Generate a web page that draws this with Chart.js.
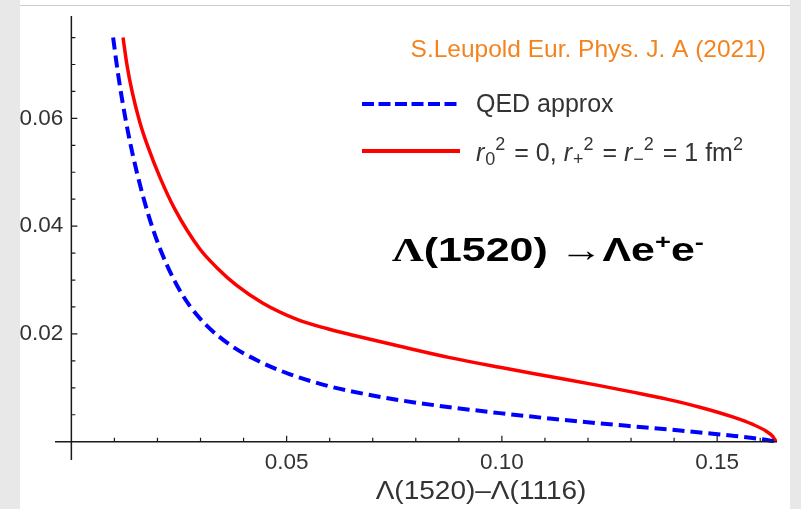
<!DOCTYPE html>
<html>
<head>
<meta charset="utf-8">
<script src="https://cdn.jsdelivr.net/npm/chart.js@4.4.0/dist/chart.umd.min.js"></script>
<style>
  html, body { margin: 0; padding: 0; background: #fff; }
  canvas { display: block; }
</style>
</head>
<body>
<canvas id="chart-canvas" width="801" height="509"></canvas>
<script>
// curve values
var qedX = [0.0097, 0.0108, 0.0120, 0.0131, 0.0143, 0.0159, 0.0180, 0.0206, 0.0240, 0.0275, 0.0315, 0.0368, 0.0431, 0.0508, 0.0584, 0.0647, 0.0763, 0.0879, 0.0995, 0.1111, 0.1227, 0.1304, 0.1383, 0.1460, 0.1536, 0.1599, 0.1637];
var qedY = [0.0750, 0.0685, 0.0625, 0.0577, 0.0531, 0.0478, 0.0418, 0.0358, 0.0298, 0.0252, 0.0215, 0.0180, 0.0151, 0.0125, 0.0106, 0.0094, 0.0077, 0.0064, 0.0053, 0.0043, 0.0034, 0.00285, 0.0023, 0.0017, 0.0011, 0.0005, 0.0000];

var ffX = [0.0120, 0.0129, 0.0141, 0.0159, 0.0178, 0.0206, 0.0240, 0.0298, 0.0338, 0.0384, 0.0445, 0.0524, 0.0593, 0.0647, 0.0763, 0.0879, 0.0995, 0.1111, 0.1227, 0.1304, 0.1383, 0.1460, 0.1536, 0.1583, 0.1615, 0.1629, 0.1637];
var ffY = [0.0750, 0.0700, 0.0650, 0.0593, 0.0547, 0.0490, 0.0432, 0.0358, 0.0323, 0.0290, 0.0257, 0.0227, 0.0210, 0.0199, 0.0177, 0.0156, 0.0138, 0.0121, 0.0104, 0.0092, 0.0079, 0.0064, 0.0046, 0.0032, 0.0019, 0.0010, 0.0000];

var xTicks = [0.05, 0.10, 0.15];
var xTickLabels = ["0.05", "0.10", "0.15"];
var yTicks = [0.02, 0.04, 0.06];
var yTickLabels = ["0.02", "0.04", "0.06"];
var xMinor = [0.01, 0.02, 0.03, 0.04, 0.06, 0.07, 0.08, 0.09, 0.11, 0.12, 0.13, 0.14, 0.16];
var yMinor = [0.005, 0.01, 0.015, 0.025, 0.03, 0.035, 0.045, 0.05, 0.055, 0.065, 0.07, 0.075];

var xTitle = "\u039B(1520)\u2013\u039B(1116)";
var sourceText = "S.Leupold Eur. Phys. J. A (2021)";

function toPoints(xs, ys) {
    return xs.map(function (x, i) { return { x: x, y: ys[i] }; });
}

var SANS = "'Liberation Sans', Arial, sans-serif";
var SERIF = "'Liberation Serif', 'Times New Roman', serif";

// draws a row of text pieces one after the other, returns end x
function drawRuns(ctx, x, y, runs) {
    runs.forEach(function (r) {
        ctx.font = r.font;
        ctx.fillText(r.t, x, y + (r.dy || 0));
        x += ctx.measureText(r.t).width + (r.gap || 0);
    });
    return x;
}

var backdrop = {
    id: 'backdrop',
    beforeDraw: function (chart) {
        var ctx = chart.ctx;
        ctx.save();
        ctx.fillStyle = '#ffffff';
        ctx.fillRect(0, 0, chart.width, chart.height);
        ctx.fillStyle = '#e8e8e8';
        ctx.fillRect(0, 0, 20, chart.height);
        ctx.fillRect(790, 0, chart.width - 790, chart.height);
        ctx.fillStyle = '#cccccc';
        ctx.fillRect(20, 5, 770, 1);
        ctx.restore();
    }
};

var axesAndText = {
    id: 'axesAndText',
    afterDatasetsDraw: function (chart) {
        var ctx = chart.ctx;
        var xs = chart.scales.x, ys = chart.scales.y;
        var area = chart.chartArea;
        var x0 = xs.getPixelForValue(0), y0 = ys.getPixelForValue(0);
        ctx.save();
        ctx.strokeStyle = '#1a1a1a';
        ctx.lineWidth = 1.5;
        ctx.beginPath();
        ctx.moveTo(area.left, y0); ctx.lineTo(area.right, y0);
        ctx.moveTo(x0, area.top); ctx.lineTo(x0, area.bottom);
        ctx.stroke();

        ctx.lineWidth = 1.2;
        ctx.beginPath();
        xTicks.forEach(function (v) { var p = xs.getPixelForValue(v); ctx.moveTo(p, y0); ctx.lineTo(p, y0 - 6); });
        xMinor.forEach(function (v) { var p = xs.getPixelForValue(v); ctx.moveTo(p, y0); ctx.lineTo(p, y0 - 4); });
        yTicks.forEach(function (v) { var p = ys.getPixelForValue(v); ctx.moveTo(x0, p); ctx.lineTo(x0 + 6, p); });
        yMinor.forEach(function (v) { var p = ys.getPixelForValue(v); ctx.moveTo(x0, p); ctx.lineTo(x0 + 4, p); });
        ctx.stroke();

        // tick labels
        ctx.fillStyle = '#333333';
        ctx.font = '22.5px ' + SANS;
        ctx.textAlign = 'center';
        ctx.textBaseline = 'middle';
        xTicks.forEach(function (v, i) { ctx.fillText(xTickLabels[i], xs.getPixelForValue(v), y0 + 21); });
        ctx.textAlign = 'right';
        yTicks.forEach(function (v, i) { ctx.fillText(yTickLabels[i], x0 - 8, ys.getPixelForValue(v)); });

        // axis title (slightly stretched, as in the source image)
        ctx.save();
        ctx.translate(481, 492);
        ctx.scale(1.12, 1);
        ctx.textAlign = 'center';
        ctx.font = '25px ' + SANS;
        ctx.fillText(xTitle, 0, 0);
        ctx.restore();

        // source
        ctx.fillStyle = '#f3831f';
        ctx.textAlign = 'right';
        ctx.font = '24.5px ' + SANS;
        ctx.fillText(sourceText, 766, 50);

        // legend
        ctx.lineWidth = 4;
        ctx.strokeStyle = '#0000ff';
        ctx.setLineDash([12, 4.5]);
        ctx.beginPath(); ctx.moveTo(362, 104); ctx.lineTo(460, 104); ctx.stroke();
        ctx.setLineDash([]);
        ctx.strokeStyle = '#ff0000';
        ctx.beginPath(); ctx.moveTo(362, 151); ctx.lineTo(460, 151); ctx.stroke();

        ctx.fillStyle = '#333333';
        ctx.textAlign = 'left';
        ctx.textBaseline = 'alphabetic';
        ctx.font = '25px ' + SANS;
        ctx.fillText('QED approx', 476, 112);

        var it = 'italic 25px ' + SANS, rg = '25px ' + SANS, sm = '18px ' + SANS;
        drawRuns(ctx, 476, 161, [
            { t: 'r', font: it, gap: 1 }, { t: '0', font: sm, dy: 4 }, { t: '2', font: sm, dy: -11, gap: 2 },
            { t: ' = 0, ', font: rg },
            { t: 'r', font: it, gap: 1 }, { t: '+', font: sm, dy: 4 }, { t: '2', font: sm, dy: -11, gap: 2 },
            { t: ' = ', font: rg },
            { t: 'r', font: it, gap: 1 }, { t: '\u2212', font: sm, dy: 4 }, { t: '2', font: sm, dy: -11, gap: 2 },
            { t: ' = 1 fm', font: rg }, { t: '2', font: sm, dy: -11 }
        ]);

        // reaction label, horizontally stretched like the source
        ctx.fillStyle = '#000000';
        ctx.save();
        ctx.translate(392, 261);
        ctx.scale(1.3, 1);
        var bs = 'bold 33px ' + SANS, bsm = 'bold 21px ' + SANS;
        drawRuns(ctx, 0, 0, [
            { t: '\u039B', font: 'bold 34px ' + SERIF },
            { t: '(1520) ', font: bs },
            { t: '\u2192', font: bs },
            { t: '\u039Be', font: bs }, { t: '+', font: bsm, dy: -12 },
            { t: 'e', font: bs }, { t: '-', font: bsm, dy: -12 }
        ]);
        ctx.restore();
        ctx.restore();
    }
};

var ctx = document.getElementById('chart-canvas').getContext('2d');
var myChart = new Chart(ctx, {
    type: 'line',
    data: {
        datasets: [
            {
                label: "QED approx",
                data: toPoints(qedX, qedY),
                borderColor: "#0000ff",
                borderWidth: 4,
                borderDash: [12, 6],
                cubicInterpolationMode: 'monotone',
                pointRadius: 0,
                fill: false
            },
            {
                label: "r0^2 = 0, r+^2 = r-^2 = 1 fm^2",
                data: toPoints(ffX, ffY),
                borderColor: "#ff0000",
                borderWidth: 3.5,
                cubicInterpolationMode: 'monotone',
                pointRadius: 0,
                fill: false
            }
        ]
    },
    options: {
        responsive: false,
        animation: false,
        layout: { padding: { left: 55, right: 24, top: 16, bottom: 49 } },
        plugins: { legend: { display: false }, tooltip: { enabled: false } },
        scales: {
            x: { type: 'linear', min: -0.0038, max: 0.1639, display: false },
            y: { type: 'linear', min: -0.0034, max: 0.0790, display: false }
        }
    },
    plugins: [backdrop, axesAndText]
});
</script>
</body>
</html>
